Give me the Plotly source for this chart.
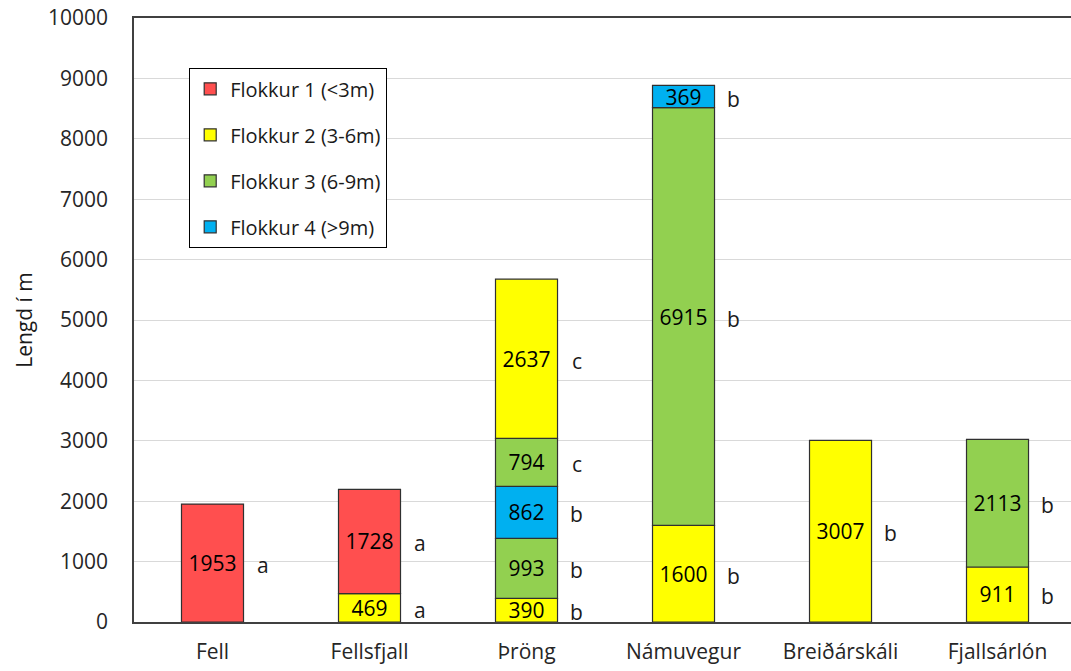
import plotly.graph_objects as go

# Sites along the x axis
sites = ["Fell", "Fellsfjall", "Þröng", "Námuvegur", "Breiðárskáli", "Fjallsárlón"]

# Height classes
class_ids = [1, 2, 3, 4]
class_names = ["Flokkur 1 (<3m)", "Flokkur 2 (3-6m)", "Flokkur 3 (6-9m)", "Flokkur 4 (>9m)"]
class_colors = ["#FF4F4F", "#FFFF00", "#92D050", "#00B0F0"]

# Stacked segments, bottom to top: length (m), height class, group letter
seg1_val = [1953, 469, 390, 1600, 3007, 911]
seg1_cls = [1, 2, 2, 2, 2, 2]
seg1_let = ["a", "a", "b", "b", "b", "b"]

seg2_val = [None, 1728, 993, 6915, None, 2113]
seg2_cls = [None, 1, 3, 3, None, 3]
seg2_let = [None, "a", "b", "b", None, "b"]

seg3_val = [None, None, 862, 369, None, None]
seg3_cls = [None, None, 4, 4, None, None]
seg3_let = [None, None, "b", "b", None, None]

seg4_val = [None, None, 794, None, None, None]
seg4_cls = [None, None, 3, None, None, None]
seg4_let = [None, None, "c", None, None, None]

seg5_val = [None, None, 2637, None, None, None]
seg5_cls = [None, None, 2, None, None, None]
seg5_let = [None, None, "c", None, None, None]

layers = [
    (seg1_val, seg1_cls, seg1_let),
    (seg2_val, seg2_cls, seg2_let),
    (seg3_val, seg3_cls, seg3_let),
    (seg4_val, seg4_cls, seg4_let),
    (seg5_val, seg5_cls, seg5_let),
]

FONT = "Open Sans"
FS = 21
BAR_W = 0.395

fig = go.Figure()
base = [0.0] * len(sites)
shown = set()
annotations = []

for vals, cls, lets in layers:
    for c in class_ids:
        idx = [i for i in range(len(sites)) if cls[i] == c and vals[i] is not None]
        if not idx:
            continue
        k = class_ids.index(c)
        fig.add_trace(go.Bar(
            x=idx,
            y=[vals[i] for i in idx],
            base=[base[i] for i in idx],
            width=BAR_W,
            name=class_names[k],
            legendgroup=str(c),
            legendrank=c,
            showlegend=c not in shown,
            marker=dict(color=class_colors[k], line=dict(color="#303030", width=1.2)),
            text=[str(vals[i]) for i in idx],
            textposition="inside",
            insidetextanchor="middle",
            constraintext="none",
            textangle=0,
            textfont=dict(family=FONT, size=FS, color="#000000"),
            hoverinfo="skip",
        ))
        shown.add(c)
    for i in range(len(sites)):
        if vals[i] is None:
            continue
        annotations.append(dict(
            x=i + 0.32, y=base[i] + vals[i] / 2, xref="x", yref="y",
            text=lets[i], showarrow=False, yshift=-2,
            font=dict(family=FONT, size=FS, color="#1a1a1a"),
        ))
        base[i] += vals[i]

fig.update_layout(
    width=1071, height=671,
    margin=dict(l=134, r=0, t=18, b=49),
    paper_bgcolor="white", plot_bgcolor="white",
    barmode="overlay",
    annotations=annotations,
    showlegend=True,
    legend=dict(
        x=0.0587, y=0.917, xanchor="left", yanchor="top",
        bordercolor="#000000", borderwidth=1.2, bgcolor="white",
        font=dict(family=FONT, size=FS - 1, color="#1a1a1a"),
        tracegroupgap=17, traceorder="grouped",
    ),
    xaxis=dict(
        range=[-0.5, 5.468],
        tickvals=list(range(len(sites))), ticktext=sites,
        showgrid=False, showline=True, linecolor="#404040", linewidth=1.5,
        mirror=True, ticks="", zeroline=False,
        tickfont=dict(family=FONT, size=FS, color="#262626"),
        ticklabelstandoff=10,
    ),
    yaxis=dict(
        range=[0, 10000], dtick=1000, tickformat="d",
        showgrid=True, gridcolor="#D9D9D9", gridwidth=1,
        showline=True, linecolor="#404040", linewidth=1.5,
        ticks="", zeroline=False,
        tickfont=dict(family=FONT, size=FS, color="#262626"),
        ticklabelstandoff=20,
        title=dict(text="Lengd í m", font=dict(family=FONT, size=FS, color="#1a1a1a"), standoff=10),
    ),
)

fig.write_html("out.html")
